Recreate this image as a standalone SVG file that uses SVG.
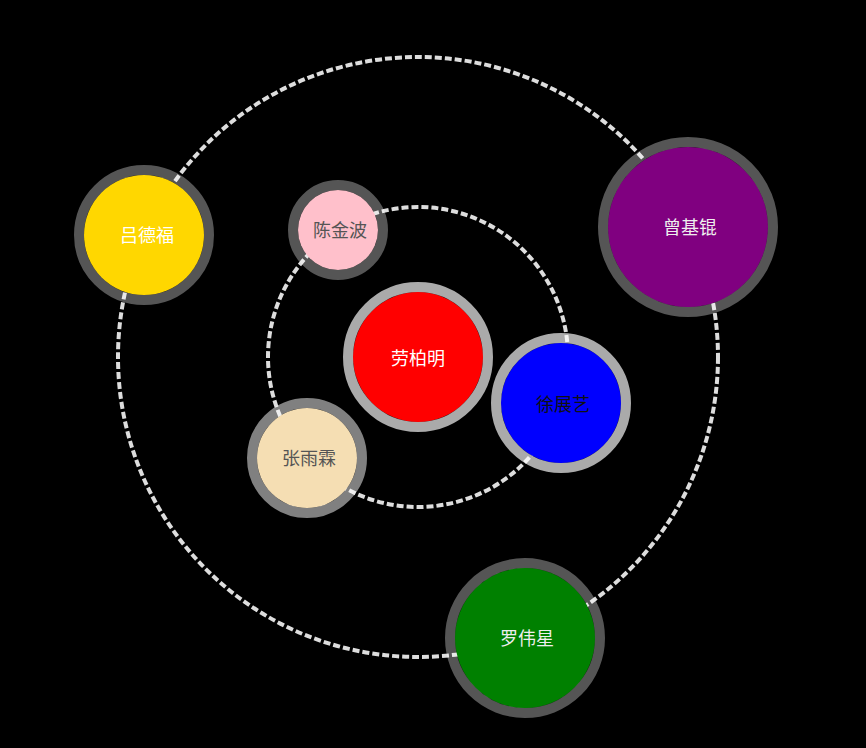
<svg xmlns="http://www.w3.org/2000/svg" width="866" height="748" viewBox="0 0 866 748">
  <style>
    .orbit { fill: none; stroke: #dddddd; stroke-width: 4; stroke-dasharray: 7 3; }
    .ring { fill: none; stroke: #ffffff; stroke-width: 10; }
    .dark { stroke-opacity: 0.333; }
    .mid { stroke-opacity: 0.5; }
    .light { stroke-opacity: 0.667; }
    text { font-family: "Noto Sans CJK SC", "Noto Sans", sans-serif; font-size: 18px; text-anchor: middle; dominant-baseline: central; }
  </style>
  <rect x="0" y="0" width="866" height="748" fill="#000000"/>
  <g id="connectors">
    <circle class="orbit" cx="418" cy="357" r="150"/>
    <circle class="orbit" cx="418" cy="357" r="300"/>
  </g>
  <g id="node-laobaiming">
    <circle cx="418" cy="357" r="65" fill="#ff0000"/>
    <circle class="ring light" cx="418" cy="357" r="70"/>
    <text x="418" y="357" fill="#ffffff">劳柏明</text>
  </g>
  <g id="node-chenjinbo">
    <circle cx="338" cy="230" r="40" fill="#ffc0cb"/>
    <circle class="ring dark" cx="338" cy="230" r="45"/>
    <text x="340" y="229" fill="#555555">陈金波</text>
  </g>
  <g id="node-xuzhanyi">
    <circle cx="561" cy="403" r="60" fill="#0000ff"/>
    <circle class="ring light" cx="561" cy="403" r="65"/>
    <text x="563" y="403" fill="#111111">徐展艺</text>
  </g>
  <g id="node-zhangyulin">
    <circle cx="307" cy="458" r="50" fill="#f5deb3"/>
    <circle class="ring mid" cx="307" cy="458" r="55"/>
    <text x="309" y="457" fill="#555555">张雨霖</text>
  </g>
  <g id="node-lvdefu">
    <circle cx="144" cy="235" r="60" fill="#ffd700"/>
    <circle class="ring dark" cx="144" cy="235" r="65"/>
    <text x="147" y="234" fill="#ffffff">吕德福</text>
  </g>
  <g id="node-zengjikun">
    <circle cx="688" cy="227" r="80" fill="#800080"/>
    <circle class="ring dark" cx="688" cy="227" r="85"/>
    <text x="690" y="226" fill="#eeeeee">曾基锟</text>
  </g>
  <g id="node-luoweixing">
    <circle cx="525" cy="638" r="70" fill="#008000"/>
    <circle class="ring dark" cx="525" cy="638" r="75"/>
    <text x="527" y="637" fill="#eeeeee">罗伟星</text>
  </g>
</svg>
